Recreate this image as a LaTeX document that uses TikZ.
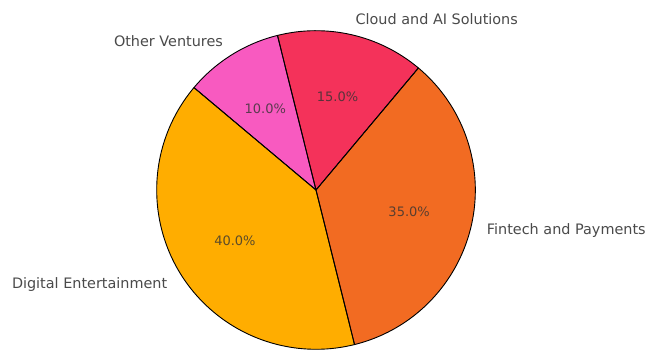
\documentclass[tikz,border=0pt]{standalone}
\usepackage{fontspec}
\setmainfont{DejaVu Sans}
\usetikzlibrary{calc}
\definecolor{cDig}{HTML}{FFAD00}
\definecolor{cFin}{HTML}{F26B22}
\definecolor{cCld}{HTML}{F4325A}
\definecolor{cOth}{HTML}{F85AC0}
\definecolor{lblc}{HTML}{4A4A4A}
\definecolor{pctc}{HTML}{333333}
\tikzset{
  wedge/.style={draw=black, line width=0.9pt, line join=round},
  lbl/.style={inner sep=0pt, text=lblc, font=\fontsize{14.4}{16}\selectfont},
  pct/.style={inner sep=0pt, text=pctc, text opacity=0.8, font=\fontsize{13}{15}\selectfont},
}
\begin{document}
\begin{tikzpicture}[x=1pt,y=1pt]
\useasboundingbox (0,0) rectangle (646,350);
\coordinate (c) at (316,160);
\def\R{159.3}
% Digital Entertainment 140 -> 284
\fill[cDig] (c) -- ++(140:\R) arc[start angle=140, end angle=284, radius=\R] -- cycle;
% Fintech 284 -> 410
\fill[cFin] (c) -- ++(284:\R) arc[start angle=284, end angle=410, radius=\R] -- cycle;
% Cloud 50 -> 104
\fill[cCld] (c) -- ++(50:\R) arc[start angle=50, end angle=104, radius=\R] -- cycle;
% Other 104 -> 140
\fill[cOth] (c) -- ++(104:\R) arc[start angle=104, end angle=140, radius=\R] -- cycle;
\draw[wedge] (c) -- ++(140:\R) arc[start angle=140, end angle=284, radius=\R] -- cycle;
\draw[wedge] (c) -- ++(284:\R) arc[start angle=284, end angle=410, radius=\R] -- cycle;
\draw[wedge] (c) -- ++(50:\R) arc[start angle=50, end angle=104, radius=\R] -- cycle;
\draw[wedge] (c) -- ++(104:\R) arc[start angle=104, end angle=140, radius=\R] -- cycle;
% labels at 1.1 R
\node[lbl, anchor=west] (lcld) at ($(c)+(77:1.1*\R)$) {Cloud and AI Solutions};
\node[lbl, anchor=east] (loth) at ($(c)+(122:1.1*\R)$) {Other Ventures};
\node[lbl, anchor=east] (ldig) at ($(c)+(212:1.1*\R)+(0,-1.5)$) {Digital Entertainment};
\node[lbl, anchor=west] (lfin) at ($(c)+(347:1.1*\R)+(0,-1.5)$) {Fintech and Payments};
% percentages at 0.6 R
\node[pct] (pcld) at ($(c)+(77:0.6*\R)$) {15.0\%};
\node[pct] (poth) at ($(c)+(122:0.6*\R)$) {10.0\%};
\node[pct] (pdig) at ($(c)+(212:0.6*\R)$) {40.0\%};
\node[pct] (pfin) at ($(c)+(347:0.6*\R)$) {35.0\%};
\end{tikzpicture}
\end{document}
